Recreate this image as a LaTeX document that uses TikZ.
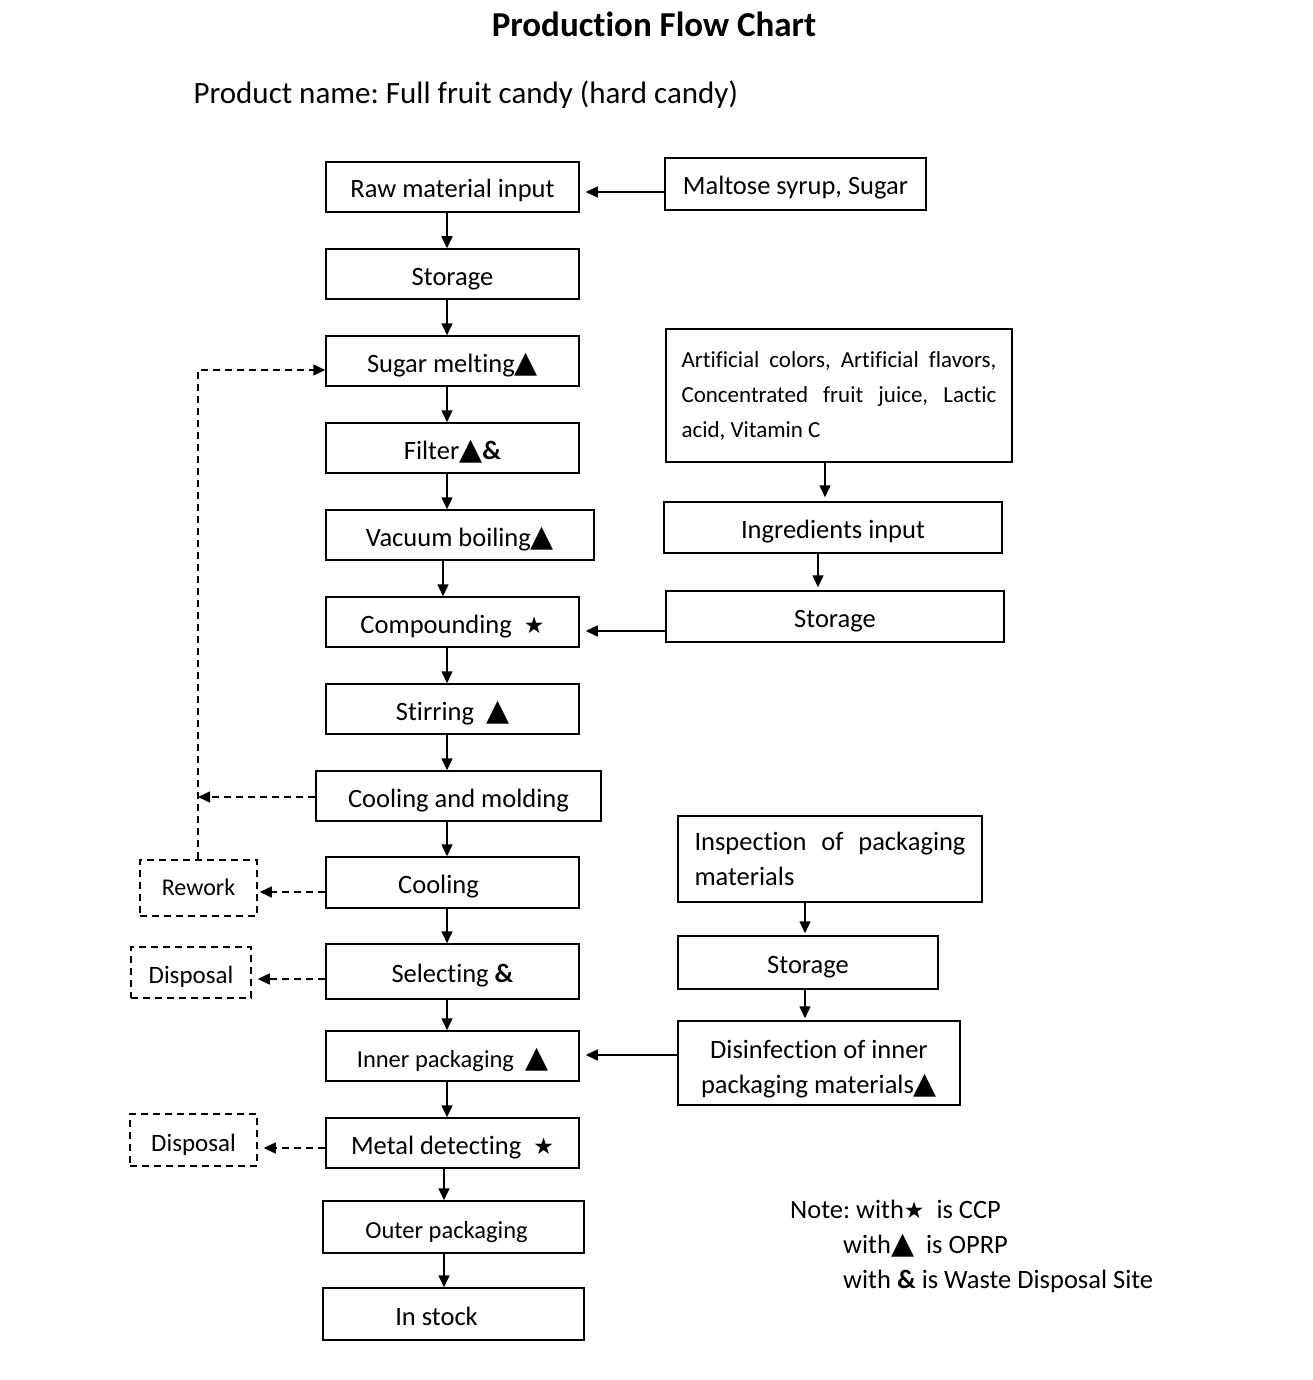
\documentclass[tikz,border=0pt]{standalone}
\usepackage{fontspec}
\setmainfont{Carlito}[Ligatures=NoCommon]
\newfontfamily\symfont{DejaVu Sans}
\usetikzlibrary{arrows.meta}
\newcommand{\tri}{{\symfont\fontsize{30pt}{30pt}\selectfont ▲}}
\newcommand{\str}{{\symfont\fontsize{23pt}{23pt}\selectfont ★}}
\newcommand{\amp}{\textbf{\&}}
\tikzset{
  box/.style={draw, line width=1.5pt, inner sep=0pt, minimum width=253pt, minimum height=50pt,
    text height=22pt, text depth=0pt,
    font=\fontsize{26.5pt}{31pt}\selectfont},
  multi/.style={text height=, text depth=, font=\fontsize{26.5pt}{35pt}\selectfont},
  dbox/.style={box, dash pattern=on 7pt off 5pt},
  arr/.style={line width=1.5pt, -{Triangle[length=12pt,width=11pt]}},
  darr/.style={arr, dash pattern=on 7pt off 5pt},
}
\begin{document}
\frenchspacing
\hyphenpenalty=10000
\exhyphenpenalty=10000
\begin{tikzpicture}[x=1pt,y=-1pt]
\useasboundingbox (0,0) rectangle (1312,1380);
\fill[white] (0,0) rectangle (1312,1380);

% headings
\node[font=\bfseries\fontsize{35pt}{40pt}\selectfont] (title) at (654,24) {Production Flow Chart};
\node[anchor=west, font=\fontsize{31pt}{36pt}\selectfont] (pname) at (190,95) {Product name: Full fruit candy (hard candy)};

% main process column
\node[box] (raw)   at (452.5,187)  {Raw material input};
\node[box] (st1)   at (452.5,274)  {Storage};
\node[box] (melt)  at (452.5,361)  {Sugar melting\tri};
\node[box] (filt)  at (452.5,448)  {Filter\tri\amp};
\node[box, minimum width=268pt] (vac) at (460,535) {Vacuum boiling\tri};
\node[box] (comp)  at (452.5,622)  {Compounding \ \str};
\node[box] (stir)  at (452.5,709)  {Stirring \ \tri};
\node[box, minimum width=285pt] (cm) at (458.5,796) {Cooling and molding};
\node[box, minimum height=51pt] (cool) at (452.5,882.5) {Cooling\hspace*{28pt}};
\node[box, minimum height=55pt] (sel)  at (452.5,971.5) {Selecting \amp};
\node[box, font=\fontsize{24.5pt}{29pt}\selectfont] (inner) at (452.5,1056) {Inner packaging \ \tri};
\node[box] (metal) at (452.5,1143) {Metal detecting \ \str};
\node[box, minimum width=261pt, minimum height=52pt, font=\fontsize{24.5pt}{29pt}\selectfont] (outer) at (453.5,1227) {Outer packaging\hspace*{14pt}};
\node[box, minimum width=261pt, minimum height=52pt] (stock) at (453.5,1314) {In stock\hspace*{34pt}};

% side inputs
\node[box, minimum width=261pt, minimum height=52pt] (malt) at (795.5,184) {Maltose syrup, Sugar};
\node[box, multi, minimum width=346pt, minimum height=133pt, text width=315pt, align=justify,
  font=\fontsize{23pt}{35pt}\selectfont] (art) at (839,395.5)
  {Artificial colors, Artificial flavors, Concentrated fruit juice, Lactic acid, Vitamin C};
\node[box, minimum width=338pt, minimum height=51pt] (ing) at (833,527.5) {Ingredients input};
\node[box, minimum width=338pt, minimum height=51pt] (st2) at (835,616.5) {Storage};
\node[box, multi, minimum width=304pt, minimum height=86pt, text width=271pt, align=justify] (insp) at (830,859)
  {Inspection of packaging materials};
\node[box, minimum width=260pt, minimum height=53pt] (st3) at (808,962.5) {Storage};
\node[box, multi, minimum width=282pt, minimum height=84pt, align=center] (dis) at (819,1063)
  {\rule{0pt}{31pt}Disinfection of inner\\packaging materials\tri};

% rejects
\node[dbox, minimum width=117pt, minimum height=56pt, text height=14pt, font=\fontsize{24pt}{29pt}\selectfont] (rework) at (198.5,888) {Rework};
\node[dbox, minimum width=120pt, minimum height=51pt, font=\fontsize{25pt}{29pt}\selectfont] (disp1) at (191,972.5) {Disposal};
\node[dbox, minimum width=127pt, minimum height=52pt, font=\fontsize{25pt}{29pt}\selectfont] (disp2) at (193.5,1140) {Disposal};

% note
\node[anchor=north west, align=left, inner sep=0pt, font=\fontsize{26.5pt}{35pt}\selectfont] (note) at (790,1200)
  {Note: with\str\ \ is CCP\\
   \hspace*{53pt}with\tri\ \ is OPRP\\
   \hspace*{53pt}with \amp\ is Waste Disposal Site};

% flow of the main column
\coordinate (mx) at (447,0);
\coordinate (my) at (443,0);
\coordinate (mz) at (444,0);
\draw[arr] (raw.south -| mx)  -- (st1.north -| mx);
\draw[arr] (st1.south -| mx)  -- (melt.north -| mx);
\draw[arr] (melt.south -| mx) -- (filt.north -| mx);
\draw[arr] (filt.south -| mx) -- (vac.north -| mx);
\draw[arr] (vac.south -| my)  -- (comp.north -| my);
\draw[arr] (comp.south -| mx) -- (stir.north -| mx);
\draw[arr] (stir.south -| mx) -- (cm.north -| mx);
\draw[arr] (cm.south -| mx)   -- (cool.north -| mx);
\draw[arr] (cool.south -| mx) -- (sel.north -| mx);
\draw[arr] (sel.south -| mx)  -- (inner.north -| mx);
\draw[arr] (inner.south -| mx) -- (metal.north -| mx);
\draw[arr] (metal.south -| mz) -- (outer.north -| mz);
\draw[arr] (outer.south -| mz) -- (stock.north -| mz);

% side feeds
\draw[arr, shorten >=6pt] (malt.west |- 0,192) -- (raw.east |- 0,192);
\draw[arr, shorten >=6pt] (st2.west |- 0,631)  -- (comp.east |- 0,631);
\draw[arr, shorten >=6pt] (dis.west |- 0,1055) -- (inner.east |- 0,1055);
\draw[arr, shorten >=4pt] (art.south -| 825,0) -- (ing.north -| 825,0);
\draw[arr, shorten >=3pt] (ing.south -| 818,0) -- (st2.north -| 818,0);
\draw[arr, shorten >=2pt] (insp.south -| 805,0) -- (st3.north -| 805,0);
\draw[arr, shorten >=2pt] (st3.south -| 805,0) -- (dis.north -| 805,0);

% rework loop and rejects
\coordinate (rx) at (198,797);
\draw[darr] (rework.north -| rx) |- (melt.west |- 0,370);
\draw[darr] (cm.west |- rx) -- (rx);
\draw[darr, shorten >=2pt] (cool.west |- 0,892)  -- (rework.east |- 0,892);
\draw[darr, shorten >=6pt] (sel.west |- 0,979)   -- (disp1.east |- 0,979);
\draw[darr, shorten >=6pt] (metal.west |- 0,1148) -- (disp2.east |- 0,1148);
\end{tikzpicture}
\end{document}
